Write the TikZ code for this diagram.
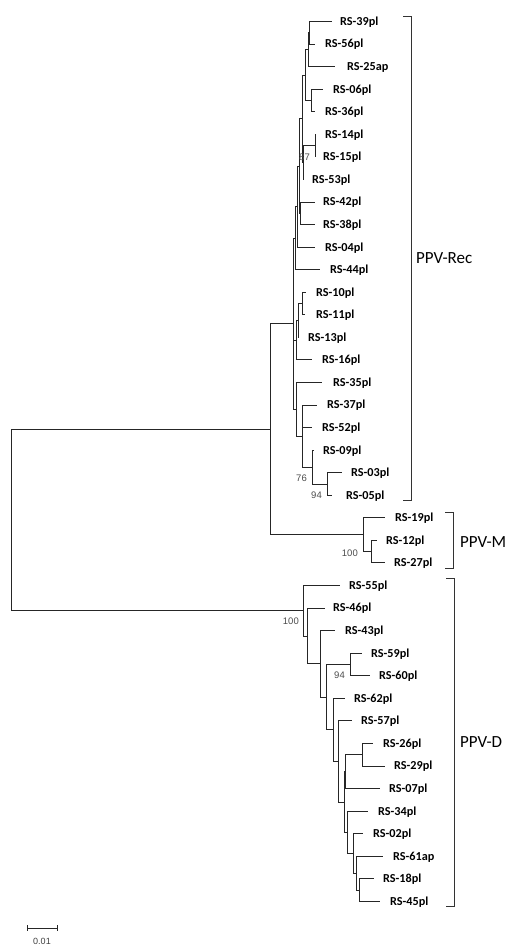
\documentclass[tikz,border=0pt]{standalone}
\usepackage{fontspec}
\setmainfont{Carlito}
\newfontfamily\bootfont{Liberation Sans}
\begin{document}
\begin{tikzpicture}[x=1pt,y=-1pt,
  br/.style={line width=0.9pt, draw=black!85},
  leaf/.style={font=\fontsize{12.2}{14}\selectfont\bfseries, anchor=base west, inner sep=0pt, yshift=-3.9pt},
  boot/.style={font=\bootfont\fontsize{9.5}{11}\selectfont, text=black!70, anchor=base east, inner sep=0pt},
  cladelab/.style={font=\fontsize{17}{20}\selectfont, anchor=base west, inner sep=0pt, yshift=-5.8pt},
  brk/.style={line width=1pt, draw=black!80}]
\useasboundingbox (0,0) rectangle (508,947);

% ---------- tips (x = branch end, y = row) ----------
\coordinate (t39) at (332,21.5);
\coordinate (t56) at (315,44.06);
\coordinate (t25) at (335,66.62);
\coordinate (t06) at (323,89.18);
\coordinate (t36) at (315,111.74);
\coordinate (t14) at (316,134.3);
\coordinate (t15) at (316,156.86);
\coordinate (t53) at (303.5,179.42);
\coordinate (t42) at (315,201.98);
\coordinate (t38) at (315,224.54);
\coordinate (t04) at (315,247.1);
\coordinate (t44) at (320,269.66);
\coordinate (t10) at (306,292.22);
\coordinate (t11) at (305,314.78);
\coordinate (t13) at (299,337.34);
\coordinate (t16) at (312,359.9);
\coordinate (t35) at (322,382.46);
\coordinate (t37) at (317,405.02);
\coordinate (t52) at (312,427.58);
\coordinate (t09) at (314,450.14);
\coordinate (t03) at (342,472.7);
\coordinate (t05) at (332,495.26);
\coordinate (t19) at (385,517.82);
\coordinate (t12) at (377,540.38);
\coordinate (t27) at (385,562.94);
\coordinate (t55) at (340,585.5);
\coordinate (t46) at (325,608.06);
\coordinate (t43) at (335,630.62);
\coordinate (t59) at (362,653.18);
\coordinate (t60) at (370,675.74);
\coordinate (t62) at (345,698.3);
\coordinate (t57) at (352,720.86);
\coordinate (t26) at (373,743.42);
\coordinate (t29) at (385,765.98);
\coordinate (t07) at (380,788.54);
\coordinate (t34) at (368,811.1);
\coordinate (t02) at (363,833.66);
\coordinate (t61) at (383,856.22);
\coordinate (t18) at (374,878.78);
\coordinate (t45) at (380,901.34);

% ---------- labels ----------
\node[leaf] (L39) at (340,21.5) {RS-39pl};
\node[leaf] (L56) at (325,44.06) {RS-56pl};
\node[leaf] (L25) at (347,66.62) {RS-25ap};
\node[leaf] (L06) at (333,89.18) {RS-06pl};
\node[leaf] (L36) at (325,111.74) {RS-36pl};
\node[leaf] (L14) at (325,134.3) {RS-14pl};
\node[leaf] (L15) at (323,156.86) {RS-15pl};
\node[leaf] (L53) at (312,179.42) {RS-53pl};
\node[leaf] (L42) at (323,201.98) {RS-42pl};
\node[leaf] (L38) at (323,224.54) {RS-38pl};
\node[leaf] (L04) at (325,247.1) {RS-04pl};
\node[leaf] (L44) at (330,269.66) {RS-44pl};
\node[leaf] (L10) at (316,292.22) {RS-10pl};
\node[leaf] (L11) at (316,314.78) {RS-11pl};
\node[leaf] (L13) at (308,337.34) {RS-13pl};
\node[leaf] (L16) at (322,359.9) {RS-16pl};
\node[leaf] (L35) at (333,382.46) {RS-35pl};
\node[leaf] (L37) at (327,405.02) {RS-37pl};
\node[leaf] (L52) at (322,427.58) {RS-52pl};
\node[leaf] (L09) at (323,450.14) {RS-09pl};
\node[leaf] (L03) at (351,472.7) {RS-03pl};
\node[leaf] (L05) at (346,495.26) {RS-05pl};
\node[leaf] (L19) at (395,517.82) {RS-19pl};
\node[leaf] (L12) at (386,540.38) {RS-12pl};
\node[leaf] (L27) at (394,562.94) {RS-27pl};
\node[leaf] (L55) at (349,585.5) {RS-55pl};
\node[leaf] (L46) at (333,608.06) {RS-46pl};
\node[leaf] (L43) at (345,630.62) {RS-43pl};
\node[leaf] (L59) at (371,653.18) {RS-59pl};
\node[leaf] (L60) at (379,675.74) {RS-60pl};
\node[leaf] (L62) at (354,698.3) {RS-62pl};
\node[leaf] (L57) at (361,720.86) {RS-57pl};
\node[leaf] (L26) at (383,743.42) {RS-26pl};
\node[leaf] (L29) at (394,765.98) {RS-29pl};
\node[leaf] (L07) at (389,788.54) {RS-07pl};
\node[leaf] (L34) at (378,811.1) {RS-34pl};
\node[leaf] (L02) at (373,833.66) {RS-02pl};
\node[leaf] (L61) at (393,856.22) {RS-61ap};
\node[leaf] (L18) at (383,878.78) {RS-18pl};
\node[leaf] (L45) at (390,901.34) {RS-45pl};

% ---------- internal nodes ----------
\coordinate (nA) at (309.5,32.78);
\coordinate (nB) at (308,49.7);
\coordinate (nC) at (311,100.46);
\coordinate (nD) at (305,75.08);
\coordinate (nE) at (315,145.58);
\coordinate (nF) at (303,162.5);
\coordinate (nG) at (302,118.79);
\coordinate (nH) at (300,213.26);
\coordinate (nI) at (299,166.03);
\coordinate (nJ) at (297,206.56);
\coordinate (nK) at (295,238.11);
\coordinate (nM) at (302,303.5);
\coordinate (nN) at (298,320.42);
\coordinate (nO) at (296,340.16);
\coordinate (n0305) at (327,483.98);
\coordinate (n09) at (312,467.06);
\coordinate (n37) at (302,436.04);
\coordinate (n35) at (296,409.25);
\coordinate (nRec) at (293,323.68);
\coordinate (n1227) at (371,551.66);
\coordinate (nPM) at (363,534.74);
\coordinate (nTop) at (270,429.21);
\coordinate (n1845) at (359,890.06);
\coordinate (n61) at (356,873.14);
\coordinate (n02) at (353,853.4);
\coordinate (n34) at (347,832.25);
\coordinate (n2629) at (362,754.7);
\coordinate (n07) at (345,771.62);
\coordinate (nP) at (344,801.94);
\coordinate (n57) at (338,761.4);
\coordinate (n62) at (333,729.85);
\coordinate (n5960) at (350,664.46);
\coordinate (nQ) at (326,697.16);
\coordinate (n43) at (320,663.89);
\coordinate (n46) at (307,635.98);
\coordinate (nRD) at (303,610.74);
\coordinate (nRoot) at (11,519.98);

% ---------- branches ----------
\draw[br] (nA) |- (t39); \draw[br] (nA) |- (t56);
\draw[br] (nB) |- (nA);  \draw[br] (nB) |- (t25);
\draw[br] (nC) |- (t06); \draw[br] (nC) |- (t36);
\draw[br] (nD) |- (nB);  \draw[br] (nD) |- (nC);
\draw[br] (nE) |- (t14); \draw[br] (nE) |- (t15);
\draw[br] (nF) |- (nE);  \draw[br] (nF) |- (t53);
\draw[br] (nG) |- (nD);  \draw[br] (nG) |- (nF);
\draw[br] (nH) |- (t42); \draw[br] (nH) |- (t38);
\draw[br] (nI) |- (nG);  \draw[br] (nI) |- (nH);
\draw[br] (nJ) |- (nI);  \draw[br] (nJ) |- (t04);
\draw[br] (nK) |- (nJ);  \draw[br] (nK) |- (t44);
\draw[br] (nM) |- (t10); \draw[br] (nM) |- (t11);
\draw[br] (nN) |- (nM);  \draw[br] (nN) |- (t13);
\draw[br] (nO) |- (nN);  \draw[br] (nO) |- (t16);
\draw[br] (n0305) |- (t03); \draw[br] (n0305) |- (t05);
\draw[br] (n09) |- (t09); \draw[br] (n09) |- (n0305);
\draw[br] (n37) |- (t37); \draw[br] (n37) |- (t52); \draw[br] (n37) |- (n09);
\draw[br] (n35) |- (t35); \draw[br] (n35) |- (n37);
\draw[br] (nRec) |- (nK); \draw[br] (nRec) |- (nO); \draw[br] (nRec) |- (n35);
\draw[br] (n1227) |- (t12); \draw[br] (n1227) |- (t27);
\draw[br] (nPM) |- (t19); \draw[br] (nPM) |- (n1227);
\draw[br] (nTop) |- (nRec); \draw[br] (nTop) |- (nPM);
\draw[br] (n1845) |- (t18); \draw[br] (n1845) |- (t45);
\draw[br] (n61) |- (t61); \draw[br] (n61) |- (n1845);
\draw[br] (n02) |- (t02); \draw[br] (n02) |- (n61);
\draw[br] (n34) |- (t34); \draw[br] (n34) |- (n02);
\draw[br] (n2629) |- (t26); \draw[br] (n2629) |- (t29);
\draw[br] (n07) |- (n2629); \draw[br] (n07) |- (t07);
\draw[br] (nP) |- (n07); \draw[br] (nP) |- (n34);
\draw[br] (n57) |- (t57); \draw[br] (n57) |- (nP);
\draw[br] (n62) |- (t62); \draw[br] (n62) |- (n57);
\draw[br] (n5960) |- (t59); \draw[br] (n5960) |- (t60);
\draw[br] (nQ) |- (n5960); \draw[br] (nQ) |- (n62);
\draw[br] (n43) |- (t43); \draw[br] (n43) |- (nQ);
\draw[br] (n46) |- (t46); \draw[br] (n46) |- (n43);
\draw[br] (nRD) |- (t55); \draw[br] (nRD) |- (n46);
\draw[br] (nRoot) |- (nTop); \draw[br] (nRoot) |- (nRD);

% ---------- bootstrap values ----------
\node[boot] (b87) at (310,160.3) {87};
\node[boot] (b76) at (307,481.5) {76};
\node[boot] (b94a) at (322,498.5) {94};
\node[boot] (b100a) at (358,556.5) {100};
\node[boot] (b100b) at (299,624.5) {100};
\node[boot] (b94b) at (345,678.5) {94};

% ---------- clade brackets ----------
\coordinate (rA) at (403,17);  \coordinate (rB) at (411,17);
\coordinate (rC) at (411,500); \coordinate (rD) at (403,500);
\draw[brk] (rA) -- (rB) -- (rC) -- (rD);
\coordinate (mA) at (445,512); \coordinate (mB) at (453,512);
\coordinate (mC) at (453,568); \coordinate (mD) at (445,568);
\draw[brk] (mA) -- (mB) -- (mC) -- (mD);
\coordinate (dA) at (446,578); \coordinate (dB) at (454,578);
\coordinate (dC) at (454,906); \coordinate (dD) at (446,906);
\draw[brk] (dA) -- (dB) -- (dC) -- (dD);
\node[cladelab] (cRec) at (416,258) {PPV-Rec};
\node[cladelab] (cM) at (460,542) {PPV-M};
\node[cladelab] (cD) at (460,742) {PPV-D};

% ---------- scale bar ----------
\coordinate (s1) at (27,928); \coordinate (s2) at (57,928);
\draw[br] (s1) -- (s2);
\draw[br] ([yshift=3pt]s1) -- ([yshift=-3pt]s1);
\draw[br] ([yshift=3pt]s2) -- ([yshift=-3pt]s2);
\node[font=\bootfont\fontsize{9}{10}\selectfont, text=black!75, inner sep=0pt] (sl) at (42,941) {0.01};
\end{tikzpicture}
\end{document}
